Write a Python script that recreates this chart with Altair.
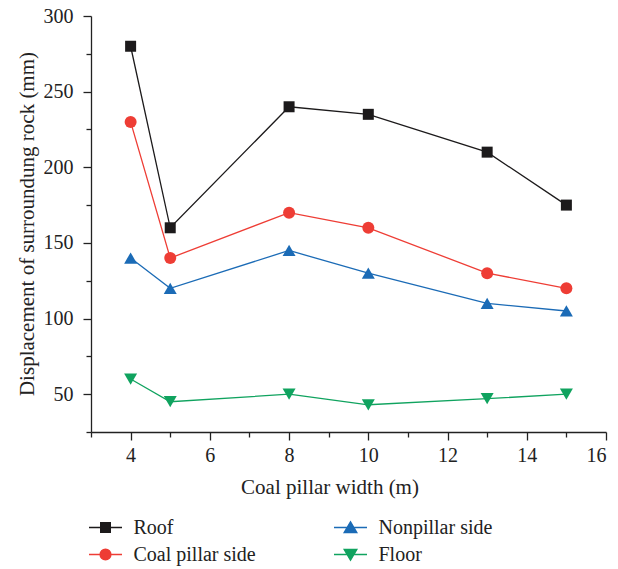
import altair as alt
import pandas as pd

widths = [4, 5, 8, 10, 13, 15]
roof = [280, 160, 240, 235, 210, 175]
coal_pillar_side = [230, 140, 170, 160, 130, 120]
nonpillar_side = [140, 120, 145, 130, 110, 105]
floor = [60, 45, 50, 43, 47, 50]

series_names = ["Roof", "Coal pillar side", "Nonpillar side", "Floor"]
series_values = [roof, coal_pillar_side, nonpillar_side, floor]
colors = ["#1c1a1b", "#ee3d35", "#1b6bb6", "#10a35f"]
shapes = ["square", "circle", "triangle-up", "triangle-down"]
sizes = [121, 144, 169, 169]
# legend symbols: line segment + marker (custom SVG paths, unit = sqrt(size)/2)
legend_paths = [
    "M-2.75,0H2.75M-0.8,-0.8H0.8V0.8H-0.8Z",
    "M-2.75,0H2.75M-0.9,0A0.9,0.9 0 1,0 0.9,0A0.9,0.9 0 1,0 -0.9,0Z",
    "M-2.75,0H2.75M0,-0.95L1.05,0.85L-1.05,0.85Z",
    "M-2.75,0H2.75M0,0.95L1.05,-0.85L-1.05,-0.85Z",
]
# legend is filled row by row: two columns in the reference
legend_order = [0, 2, 1, 3]

x_ticks = list(range(3, 17))
y_ticks = list(range(25, 301, 25))

rows = []
for name, vals in zip(series_names, series_values):
    for w, v in zip(widths, vals):
        rows.append({"width": w, "value": v, "series": name})
df = pd.DataFrame(rows)

FONT = "Liberation Serif"

x_enc = alt.X(
    "width:Q",
    scale=alt.Scale(domain=[3, 16], nice=False, zero=False),
    axis=alt.Axis(
        title="Coal pillar width (m)",
        values=x_ticks,
        labelExpr="datum.value % 2 === 0 && datum.value > 3 ? datum.label : ''",
        tickSize={"condition": {"test": "datum.value % 2 !== 0", "value": 5}, "value": 8},
        labelPadding=21,
        labelBaseline="alphabetic",
        labelFontSize=20,
        titleFontSize=21,
        titleX=238.5,
        titleY=61,
        titleAlign="center",
        titleBaseline="alphabetic",
        grid=False,
    ),
)
y_enc = alt.Y(
    "value:Q",
    scale=alt.Scale(domain=[25, 300], nice=False, zero=False),
    axis=alt.Axis(
        title="Displacement of surroundung rock (mm)",
        values=y_ticks,
        labelExpr="datum.value % 50 === 0 ? datum.label : ''",
        tickSize={"condition": {"test": "datum.value % 50 !== 0", "value": 5}, "value": 8},
        labelPadding=10,
        labelFontSize=20,
        titleFontSize=21,
        titleX=-58,
        titleY=207.5,
        titleAlign="center",
        titleBaseline="alphabetic",
        grid=False,
    ),
)

layers = []
for name, col in zip(series_names, colors):
    layers.append(
        alt.Chart(df)
        .transform_filter(alt.datum.series == name)
        .mark_line(color=col, strokeWidth=1.3)
        .encode(x=x_enc, y=y_enc)
    )
for name, col, shp, sz in zip(series_names, colors, shapes, sizes):
    layers.append(
        alt.Chart(df)
        .transform_filter(alt.datum.series == name)
        .mark_point(filled=True, shape=shp, size=sz, color=col, opacity=1)
        .encode(x=x_enc, y=y_enc)
    )

leg_domain = [series_names[i] for i in legend_order]
leg_colors = [colors[i] for i in legend_order]
leg_paths = [legend_paths[i] for i in legend_order]

legend = alt.Legend(
    title=None,
    orient="none",
    legendX=4.5,
    legendY=501.5,
    columns=2,
    direction="horizontal",
    symbolSize=144,
    symbolStrokeWidth=1.4,
    labelFontSize=20,
    labelFont=FONT,
    labelColor="#222",
    labelOffset=18,
    columnPadding=74,
    rowPadding=7,
)
legend_layer = (
    alt.Chart(df)
    .transform_filter("false")
    .mark_point(filled=True, size=144, opacity=1, strokeWidth=1.4)
    .encode(
        fill=alt.Fill("series:N", scale=alt.Scale(domain=leg_domain, range=leg_colors), legend=legend),
        stroke=alt.Stroke("series:N", scale=alt.Scale(domain=leg_domain, range=leg_colors), legend=legend),
        shape=alt.Shape("series:N", scale=alt.Scale(domain=leg_domain, range=leg_paths), legend=legend),
    )
)
layers.append(legend_layer)

chart = (
    alt.layer(*layers)
    .properties(
        width=515,
        height=416,
        autosize=alt.AutoSizeParams(type="none"),
        padding={"left": 91, "top": 16, "right": 12, "bottom": 137},
        background="white",
    )
    .configure(font=FONT)
    .configure_view(stroke=None)
    .configure_axis(
        labelFont=FONT,
        titleFont=FONT,
        labelColor="#222",
        titleColor="#222",
        titleFontWeight="normal",
        domainColor="#222",
        tickColor="#222",
        domainWidth=1.3,
        tickWidth=1.3,
    )
    .configure_legend(labelFont=FONT, labelFontSize=20, labelColor="#222")
)

chart.save("out.html", embed_options={"renderer": "svg", "actions": False})
